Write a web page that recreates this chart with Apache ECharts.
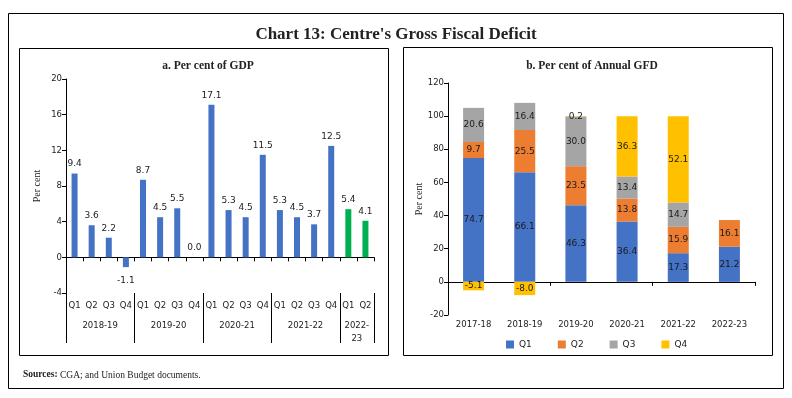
<!DOCTYPE html>
<html>
<head>
<meta charset="utf-8">
<script src="https://cdn.jsdelivr.net/npm/echarts@6/dist/echarts.min.js"></script>
<style>
  html, body { margin: 0; padding: 0; background: #fff; }
  #chart { width: 792px; height: 398px; }
</style>
</head>
<body>
<div id="chart"></div>
<script>
// panel a: quarterly GFD as per cent of GDP
const quarters = ['Q1', 'Q2', 'Q3', 'Q4', 'Q1', 'Q2', 'Q3', 'Q4', 'Q1', 'Q2', 'Q3', 'Q4', 'Q1', 'Q2', 'Q3', 'Q4', 'Q1', 'Q2'];
const gdpShare = [9.4, 3.6, 2.2, -1.1, 8.7, 4.5, 5.5, 0.0, 17.1, 5.3, 4.5, 11.5, 5.3, 4.5, 3.7, 12.5, 5.4, 4.1];
const yearGroups = ['2018-19', '2019-20', '2020-21', '2021-22', '2022-\n23'];
const groupSizes = [4, 4, 4, 4, 2];
const currentYear = '2022-\n23';

// panel b: quarterly share of annual GFD
const fiscalYears = ['2017-18', '2018-19', '2019-20', '2020-21', '2021-22', '2022-23'];
const q1Share = [74.7, 66.1, 46.3, 36.4, 17.3, 21.2];
const q2Share = [9.7, 25.5, 23.5, 13.8, 15.9, 16.1];
const q3Share = [20.6, 16.4, 30.0, 13.4, 14.7, null];
const q4Share = [-5.1, -8.0, 0.2, 36.3, 52.1, null];

const blue = '#4472C4';
const green = '#00B050';
const axisFont = 'DejaVu Sans';
const serif = 'Liberation Serif';

// which group each quarter belongs to, where each group starts and where its label sits
const groupOfQuarter = [];
const groupStarts = [];
const groupLabelAt = {};
let start = 0;
groupSizes.forEach((n, g) => {
    groupStarts.push(start);
    for (let i = 0; i < n; i++) groupOfQuarter.push(g);
    groupLabelAt[start + Math.floor(n / 2) - 1] = yearGroups[g];
    start += n;
});

const gdpData = gdpShare.map((v, i) => {
    const item = { value: v };
    if (yearGroups[groupOfQuarter[i]] === currentYear) item.itemStyle = { color: green };
    if (v < 0) item.label = { position: 'bottom', distance: 9 };
    return item;
});

const chart = echarts.init(document.getElementById('chart'));

const blackLine = { show: true, lineStyle: { color: '#000', width: 1 } };
const tickLabel = { color: '#222', fontFamily: axisFont, fontSize: 8.5 };

const stackLabel = {
    show: true,
    position: 'inside',
    color: '#1a1a1a',
    fontFamily: axisFont,
    fontSize: 9,
    formatter: p => (p.value == null ? '' : p.value.toFixed(1)),
};

function quarterSeries(name, values, color) {
    return {
        name: name,
        type: 'bar',
        stack: 'gfd',
        xAxisIndex: 3,
        yAxisIndex: 1,
        barWidth: 21,
        itemStyle: { color: color },
        label: stackLabel,
        data: values,
    };
}

const option = {
    animation: false,
    title: [
        {
            text: "Chart 13: Centre's Gross Fiscal Deficit",
            left: 'center', top: 21,
            textStyle: { fontFamily: serif, fontWeight: 'bold', fontSize: 17, color: '#222' },
        },
        {
            text: 'a. Per cent of GDP',
            left: 203, top: 55, textAlign: 'center',
            textStyle: { fontFamily: serif, fontWeight: 'bold', fontSize: 11.5, color: '#222' },
        },
        {
            text: 'b. Per cent of Annual GFD',
            left: 587, top: 55, textAlign: 'center',
            textStyle: { fontFamily: serif, fontWeight: 'bold', fontSize: 11.5, color: '#222' },
        },
        {
            text: '{b|Sources:}{n| CGA; and Union Budget documents.}',
            left: 18, top: 364,
            textStyle: {
                rich: {
                    b: { fontFamily: serif, fontSize: 9.5, lineHeight: 12, fontWeight: 'bold', color: '#222' },
                    n: { fontFamily: serif, fontSize: 9.5, lineHeight: 12, fontWeight: 'normal', color: '#222' },
                },
            },
        },
    ],
    graphic: [
        { type: 'rect', shape: { x: 8.5, y: 13.5, width: 775, height: 375 }, style: { fill: 'none', stroke: '#000', lineWidth: 1 }, z: -1 },
        { type: 'rect', shape: { x: 19.5, y: 48.5, width: 369, height: 307 }, style: { fill: 'none', stroke: '#000', lineWidth: 1 }, z: -1 },
        { type: 'rect', shape: { x: 403.5, y: 47.5, width: 369, height: 308 }, style: { fill: 'none', stroke: '#000', lineWidth: 1 }, z: -1 },
    ],
    legend: {
        data: ['Q1', 'Q2', 'Q3', 'Q4'],
        left: 501, top: 335,
        icon: 'rect', itemWidth: 8, itemHeight: 8, itemGap: 26,
        textStyle: { fontFamily: axisFont, fontSize: 9, color: '#222' },
    },
    grid: [
        { left: 66, right: 418, top: 79, bottom: 105 },
        { left: 448, right: 37, top: 83, bottom: 83 },
    ],
    xAxis: [
        {   // zero line with a tick between quarters
            gridIndex: 0, type: 'category', data: quarters,
            axisLine: Object.assign({ onZero: true }, blackLine),
            axisTick: { show: true, length: 4, interval: 0, lineStyle: { color: '#000' } },
            axisLabel: { show: false },
        },
        {   // quarter labels and year separators
            gridIndex: 0, type: 'category', data: quarters, position: 'bottom',
            axisLine: { show: false, onZero: false },
            axisTick: {
                show: true, length: 50,
                interval: i => groupStarts.indexOf(i) !== -1,
                lineStyle: { color: '#000' },
            },
            axisLabel: Object.assign({ interval: 0, margin: 8 }, tickLabel),
        },
        {   // year labels, centred on each group
            gridIndex: 0, type: 'category', data: quarters, position: 'bottom',
            axisLine: { show: false, onZero: false },
            axisTick: { show: false },
            axisLabel: Object.assign({
                interval: i => groupLabelAt[i] !== undefined,
                formatter: (v, i) => groupLabelAt[i] || '',
                margin: 26, lineHeight: 13, padding: [0, 0, 0, 17],
            }, tickLabel),
        },
        {
            gridIndex: 1, type: 'category', data: fiscalYears,
            axisLine: Object.assign({ onZero: true }, blackLine),
            axisTick: { show: true, length: 4, lineStyle: { color: '#000' } },
            axisLabel: { show: false },
        },
        {
            gridIndex: 1, type: 'category', data: fiscalYears, position: 'bottom',
            axisLine: { show: false, onZero: false },
            axisTick: { show: false },
            axisLabel: Object.assign({ margin: 5 }, tickLabel),
        },
    ],
    yAxis: [
        {
            gridIndex: 0, type: 'value', min: -4, max: 20, interval: 4,
            name: 'Per cent', nameLocation: 'middle', nameGap: 24,
            nameTextStyle: { fontFamily: serif, fontSize: 10, color: '#222' },
            axisLine: blackLine,
            axisTick: { show: true, length: 4, lineStyle: { color: '#000' } },
            splitLine: { show: false },
            axisLabel: Object.assign({ margin: 4 }, tickLabel),
        },
        {
            gridIndex: 1, type: 'value', min: -20, max: 120, interval: 20,
            name: 'Per cent', nameLocation: 'middle', nameGap: 24,
            nameTextStyle: { fontFamily: serif, fontSize: 10, color: '#222' },
            axisLine: blackLine,
            axisTick: { show: true, length: 4, lineStyle: { color: '#000' } },
            splitLine: { show: false },
            axisLabel: Object.assign({ margin: 4 }, tickLabel),
        },
    ],
    series: [
        {
            name: 'GFD/GDP',
            type: 'bar',
            xAxisIndex: 0,
            yAxisIndex: 0,
            barWidth: 6,
            itemStyle: { color: blue },
            label: {
                show: true,
                position: 'top',
                color: '#222',
                fontFamily: axisFont,
                fontSize: 9,
                formatter: p => p.value.toFixed(1),
            },
            data: gdpData,
        },
        quarterSeries('Q1', q1Share, '#4472C4'),
        quarterSeries('Q2', q2Share, '#ED7D31'),
        quarterSeries('Q3', q3Share, '#A5A5A5'),
        quarterSeries('Q4', q4Share, '#FFC000'),
    ],
};

chart.setOption(option);
</script>
</body>
</html>
